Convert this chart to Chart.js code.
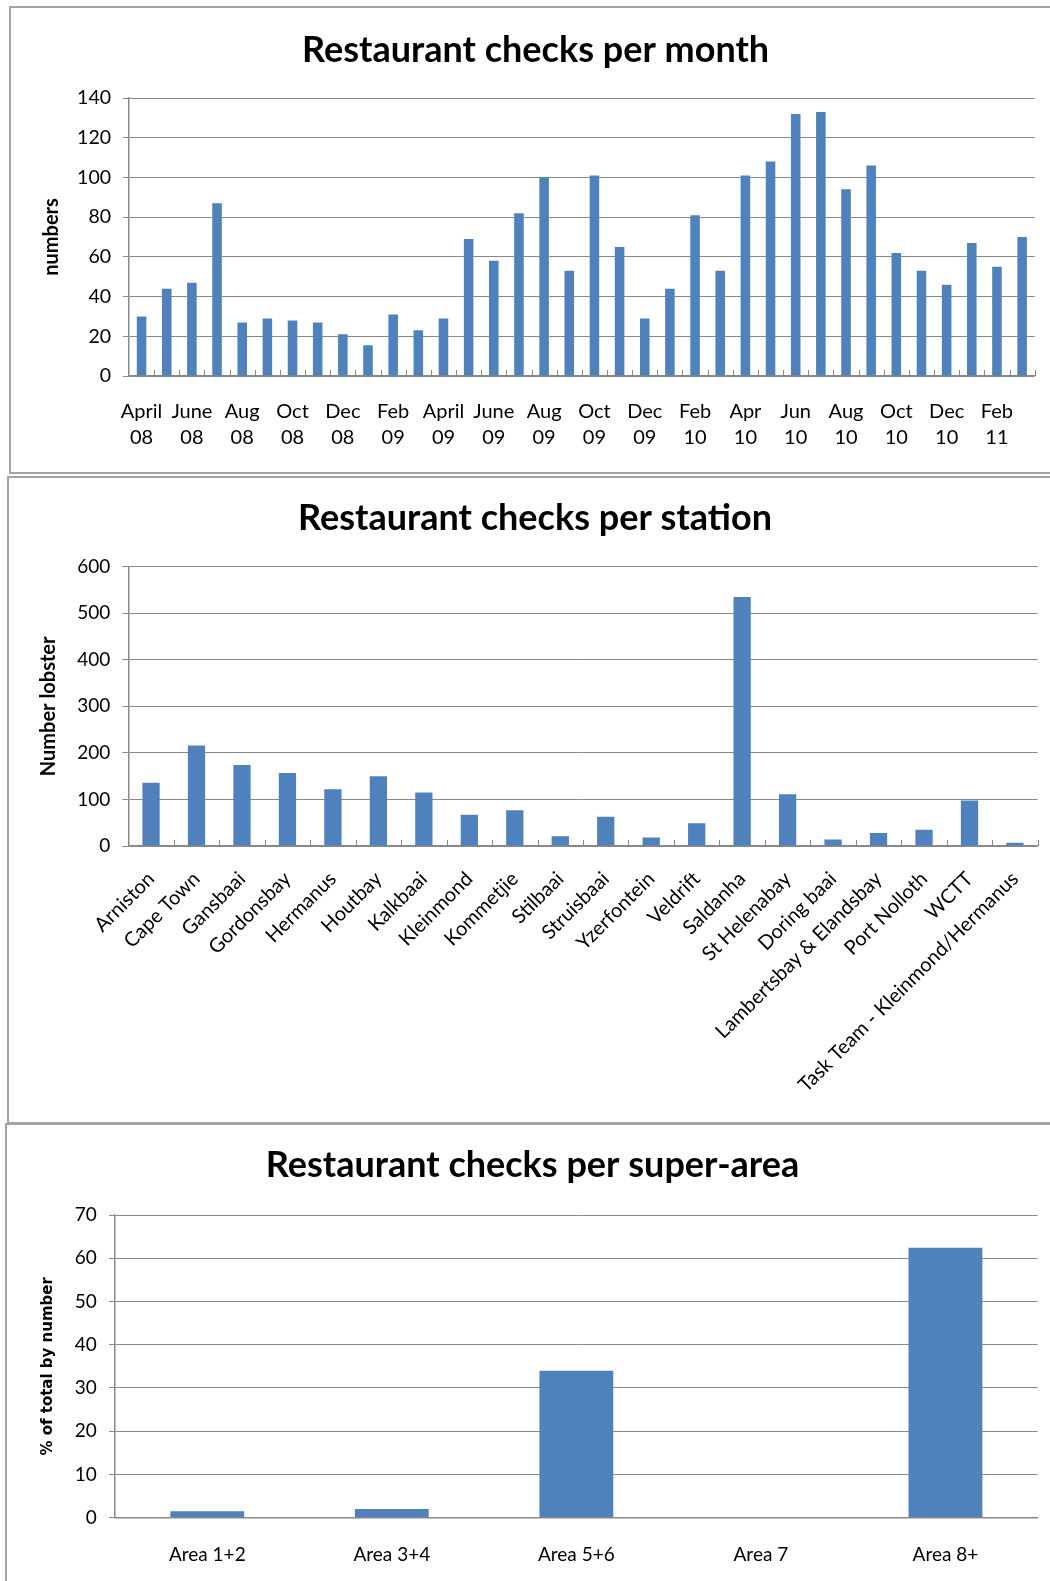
<!DOCTYPE html>
<html><head><meta charset="utf-8">
<script src="https://cdn.jsdelivr.net/npm/chart.js@4.4.1/dist/chart.umd.min.js"></script>
<style>
html,body{margin:0;padding:0;background:#fff;}
body{width:1050px;height:1581px;position:relative;overflow:hidden;}
.panel{position:absolute;border:2px solid #a3a3a3;box-sizing:border-box;}
canvas{position:absolute;left:0;}
</style></head><body>
<div class="panel" style="left:9px;top:6px;width:1080px;height:468px"></div>
<div class="panel" style="left:7px;top:476px;width:1080px;height:648px"></div>
<div class="panel" style="left:5px;top:1123px;width:1080px;height:500px"></div>
<canvas id="c1" width="1050" height="472" style="top:0"></canvas>
<canvas id="c2" width="1050" height="645" style="top:477px"></canvas>
<canvas id="c3" width="1050" height="457" style="top:1124px"></canvas>
<script>
// ---- Data ----
const months = ['Apr 08','May 08','Jun 08','Jul 08','Aug 08','Sep 08','Oct 08','Nov 08','Dec 08',
  'Jan 09','Feb 09','Mar 09','Apr 09','May 09','Jun 09','Jul 09','Aug 09','Sep 09','Oct 09','Nov 09','Dec 09',
  'Jan 10','Feb 10','Mar 10','Apr 10','May 10','Jun 10','Jul 10','Aug 10','Sep 10','Oct 10','Nov 10','Dec 10',
  'Jan 11','Feb 11','Mar 11'];
const monthlyChecks = [30,44,47,87,27,29,28,27,21,15.5,31,23,29,69,58,82,100,53,101,65,29,44,81,53,101,108,132,133,94,106,62,53,46,67,55,70];
const monthTickLabels = [['April','08'],['June','08'],['Aug','08'],['Oct','08'],['Dec','08'],['Feb','09'],
  ['April','09'],['June','09'],['Aug','09'],['Oct','09'],['Dec','09'],['Feb','10'],['Apr','10'],['Jun','10'],
  ['Aug','10'],['Oct','10'],['Dec','10'],['Feb','11']];

const stations = ['Arniston','Cape Town','Gansbaai','Gordonsbay','Hermanus','Houtbay','Kalkbaai','Kleinmond',
  'Kommetjie','Stilbaai','Struisbaai','Yzerfontein','Veldrift','Saldanha','St Helenabay','Doring baai',
  'Lambertsbay & Elandsbay','Port Nolloth','WCTT','Task Team - Kleinmond/Hermanus'];
const stationChecks = [136,216,174,157,122,150,115,67,77,21,63,18,49,535,111,14,28,35,98,7];

const areas = ['Area 1+2','Area 3+4','Area 5+6','Area 7','Area 8+'];
const areaPercent = [1.5,2.0,34.0,0,62.4];

// ---- Styling ----
const BAR = '#4F81BD';
const GRID = '#898989';
const FONT = 'Lato';
Chart.defaults.font.family = FONT;
Chart.defaults.color = '#000';

const innerTicks = {
  id: 'innerTicks',
  afterDatasetsDraw(chart, args, opts) {
    if (!opts || !opts.show) return;
    const x = chart.scales.x, y = chart.scales.y, ctx = chart.ctx;
    const base = y.getPixelForValue(0);
    ctx.save();
    ctx.strokeStyle = GRID; ctx.lineWidth = 1;
    for (let i = 0; i < x.ticks.length; i++) {
      const px = Math.round(x.getPixelForValue(i + 0.5)) + 0.5;
      ctx.beginPath(); ctx.moveTo(px, base); ctx.lineTo(px, base - 6); ctx.stroke();
    }
    ctx.restore();
  }
};

function makeChart(id, cfg) {
  const xTicks = { autoSkip: false, minRotation: cfg.rot, maxRotation: cfg.rot, color: '#000',
    padding: cfg.xPad, font: { family: FONT, size: cfg.xFont, lineHeight: cfg.xLine } };
  if (cfg.xCallback) xTicks.callback = cfg.xCallback;
  return new Chart(document.getElementById(id), {
    type: 'bar',
    data: { labels: cfg.labels, datasets: [{ data: cfg.values, backgroundColor: BAR, borderWidth: 0,
      barPercentage: cfg.barPct, categoryPercentage: 1.0 }] },
    plugins: [innerTicks],
    options: {
      responsive: false, animation: false, devicePixelRatio: 1,
      layout: { padding: { left: cfg.padLeft, right: cfg.padRight, top: 0, bottom: 0 } },
      plugins: {
        legend: { display: false }, tooltip: { enabled: false },
        innerTicks: { show: cfg.innerTicks },
        title: { display: true, text: cfg.title, color: '#000',
          font: { family: FONT, size: 36, weight: 'bold', lineHeight: 1.2 },
          padding: { top: cfg.titleTop, bottom: cfg.titleBottom } }
      },
      scales: {
        x: {
          ticks: xTicks,
          grid: { display: false, drawTicks: false },
          border: { display: true, color: GRID, width: 1.5 },
          afterFit(s) { s.height = cfg.xHeight; s.paddingLeft = 0; s.paddingRight = 0; }
        },
        y: {
          min: 0, max: cfg.yMax,
          ticks: { stepSize: cfg.yStep, color: '#000', padding: cfg.yPad, font: { family: FONT, size: cfg.yFont } },
          grid: { color: GRID, lineWidth: 1, drawTicks: true, tickLength: 6, tickColor: GRID },
          border: { display: true, color: GRID, width: 1.5 },
          title: { display: true, text: cfg.yTitle, color: '#000',
            font: cfg.yTitleFont, padding: { top: cfg.yTitlePad, bottom: 0 } },
          afterFit(s) { s.width = cfg.yWidth; }
        }
      }
    }
  });
}

makeChart('c1', {
  labels: months, values: monthlyChecks, barPct: 0.38, padLeft: 36.5, padRight: 15.3,
  title: 'Restaurant checks per month', titleTop: 28.4, titleBottom: 26.4,
  rot: 0, xPad: 23.3, xFont: 20, xLine: 1.27, xHeight: 96,
  xCallback: (v, i) => (i % 2 === 0 ? monthTickLabels[i / 2] : ''),
  innerTicks: true,
  yMax: 140, yStep: 20, yPad: 12, yFont: 19.5, yWidth: 92.5,
  yTitle: 'numbers', yTitleFont: { family: FONT, size: 20, weight: 'bold', lineHeight: 1.2 }, yTitlePad: 3.2
});

makeChart('c2', {
  labels: stations, values: stationChecks, barPct: 0.38, padLeft: 32.3, padRight: 12.3,
  title: 'Restaurant checks per station', titleTop: 19.8, titleBottom: 26.7,
  rot: 45, xPad: 21, xFont: 20, xLine: 1.2, xHeight: 276,
  innerTicks: true,
  yMax: 600, yStep: 100, yPad: 12, yFont: 19, yWidth: 96,
  yTitle: 'Number lobster', yTitleFont: { family: FONT, size: 20, weight: 'bold', lineHeight: 1.2 }, yTitlePad: 4
});

makeChart('c3', {
  labels: areas, values: areaPercent, barPct: 0.40, padLeft: 27.3, padRight: 12.3,
  title: 'Restaurant checks per super-area', titleTop: 19.3, titleBottom: 28.5,
  rot: 0, xPad: 25.6, xFont: 19, xLine: 1.2, xHeight: 63.3,
  innerTicks: false,
  yMax: 70, yStep: 10, yPad: 12.3, yFont: 19, yWidth: 87.7,
  yTitle: '% of total by number', yTitleFont: { family: 'DejaVu Sans', size: 15, weight: 'bold', lineHeight: 1.2 }, yTitlePad: 11.7
});
</script>
</body></html>
